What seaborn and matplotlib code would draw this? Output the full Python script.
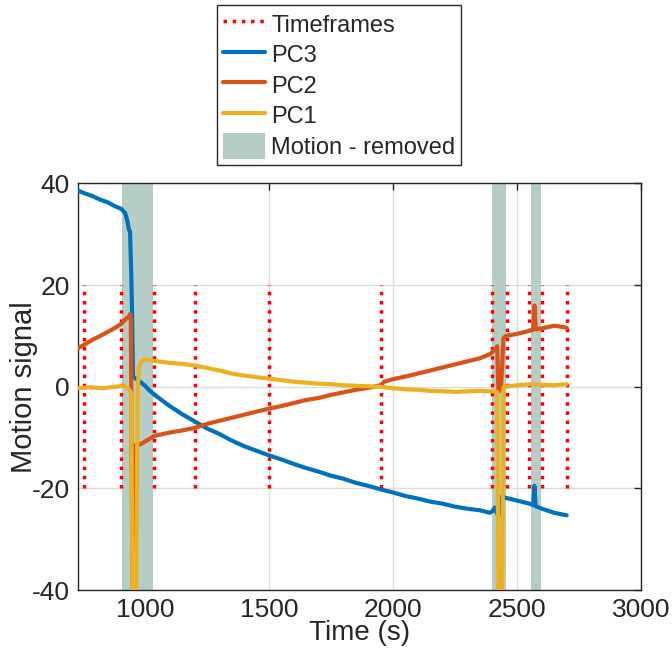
import numpy as np
import pandas as pd
import seaborn as sns
import matplotlib.pyplot as plt
from matplotlib.lines import Line2D
from matplotlib.patches import Patch

# PC3 (blue)
t_pc3 = [730, 760, 790, 820, 850, 880, 905, 920, 930, 935, 940, 945, 948, 952, 975,
         1000, 1020, 1050, 1100, 1150, 1200, 1250, 1300, 1350, 1400, 1450, 1500, 1550,
         1600, 1650, 1700, 1750, 1800, 1850, 1900, 1950, 2000, 2050, 2100, 2150, 2200,
         2250, 2300, 2350, 2390, 2400, 2410, 2425, 2440, 2450, 2500, 2550, 2565, 2570,
         2575, 2600, 2650, 2700]
v_pc3 = [38.6, 38.0, 37.5, 36.8, 36.3, 35.5, 35.0, 34.2, 32.5, 31.0, 30.5, 22.0, 15.0, 2.0, 1.2,
         0.2, -0.8, -2.0, -3.8, -5.4, -6.8, -8.2, -9.3, -10.6, -11.7, -12.6, -13.5, -14.3,
         -15.2, -16.0, -16.7, -17.5, -18.1, -18.9, -19.5, -20.2, -20.8, -21.5, -22.0, -22.6, -23.0,
         -23.6, -24.0, -24.3, -24.8, -24.5, -23.8, -25.5, -21.5, -21.8, -22.4, -23.0, -23.3, -19.5,
         -23.5, -24.0, -24.8, -25.3]

# PC2 (orange)
t_pc2 = [730, 760, 790, 820, 850, 880, 905, 920, 935, 940, 943, 950, 958, 962, 983,
         1037, 1100, 1150, 1200, 1250, 1300, 1350, 1400, 1450, 1500, 1550, 1600, 1650,
         1700, 1750, 1800, 1850, 1900, 1950, 1965, 2000, 2050, 2100, 2150, 2200, 2250,
         2300, 2350, 2390, 2400, 2415, 2420, 2425, 2435, 2445, 2455, 2500, 2550, 2565,
         2570, 2575, 2600, 2650, 2680, 2700]
v_pc2 = [7.6, 8.4, 9.3, 10.0, 10.8, 11.6, 12.4, 13.2, 13.8, 14.3, 13.5, -40.0, -40.0, -11.5, -11.3,
         -9.7, -9.0, -8.6, -8.1, -7.3, -6.7, -6.1, -5.5, -4.9, -4.3, -3.8, -3.2, -2.6,
         -2.2, -1.6, -1.1, -0.6, -0.2, 0.3, 1.0, 1.5, 2.0, 2.6, 3.2, 3.8, 4.4,
         5.0, 5.6, 6.4, 6.8, 7.6, 8.0, -1.0, -0.5, 9.5, 10.0, 10.4, 11.0, 11.2,
         16.0, 11.3, 11.5, 12.0, 11.8, 11.6]

# PC1 (yellow)
t_pc1 = [730, 780, 830, 880, 920, 935, 945, 950, 965, 970, 975, 985, 1000, 1050,
         1100, 1150, 1200, 1250, 1300, 1350, 1400, 1450, 1500, 1550, 1600, 1650, 1700,
         1750, 1800, 1850, 1900, 1950, 2000, 2050, 2100, 2150, 2200, 2250, 2300, 2350,
         2400, 2420, 2425, 2440, 2445, 2450, 2500, 2550, 2600, 2650, 2700]
v_pc1 = [-0.3, -0.1, -0.3, 0.0, 0.2, -0.5, -1.2, -40.0, -40.0, -2.0, 3.5, 5.0, 5.4, 5.0,
         4.7, 4.5, 4.2, 3.7, 3.2, 2.6, 2.2, 1.9, 1.6, 1.3, 1.0, 0.8, 0.6,
         0.5, 0.3, 0.2, 0.1, 0.0, -0.3, -0.5, -0.6, -0.8, -0.9, -1.0, -0.9, -0.8,
         -0.9, -1.0, -40.0, -40.0, -0.2, 0.0, 0.3, 0.5, 0.4, 0.3, 0.5]

timeframes = [755, 905, 1035, 1200, 1500, 1950, 2400, 2460, 2550, 2600, 2700]
removed_start = [906, 2400, 2558]
removed_end = [1033, 2455, 2596]

series_names = ['PC3', 'PC2', 'PC1']
colors = {'PC3': '#0072BD', 'PC2': '#D95319', 'PC1': '#EDB120'}

df = pd.concat([
    pd.DataFrame({'t': t_pc3, 'v': v_pc3, 'series': 'PC3'}),
    pd.DataFrame({'t': t_pc2, 'v': v_pc2, 'series': 'PC2'}),
    pd.DataFrame({'t': t_pc1, 'v': v_pc1, 'series': 'PC1'}),
], ignore_index=True)

sns.set_theme(style='whitegrid')
plt.rcParams['font.family'] = ['Liberation Sans', 'DejaVu Sans']
plt.rcParams['axes.unicode_minus'] = False

fig = plt.figure(figsize=(6.72, 6.6), dpi=100)
ax = fig.add_axes([0.116, 0.106, 0.838, 0.616])

shade = '#b4cec6'
for a, b in zip(removed_start, removed_end):
    ax.axvspan(a, b, color=shade, lw=0, zorder=1)

ax.vlines(timeframes, -20, 20, colors='red', linestyles=':', linewidth=2.5, zorder=2)

sns.lineplot(data=df, x='t', y='v', hue='series', hue_order=series_names,
             palette=colors, estimator=None, sort=False, linewidth=3,
             legend=False, ax=ax, zorder=3)

ax.set_xlim(730, 3000)
ax.set_ylim(-40, 40)
ax.set_xticks([1000, 1500, 2000, 2500, 3000])
ax.set_yticks([-40, -20, 0, 20, 40])
ax.grid(True, color='#dcdcdc', linewidth=1)
for s in ax.spines.values():
    s.set_edgecolor('#262626')
    s.set_linewidth(1)
ax.tick_params(direction='in', length=5, width=1, top=True, right=True,
               labelsize=19, colors='#262626', pad=6)
ax.set_xlabel('Time (s)', fontsize=20, labelpad=-2)
ax.set_ylabel('Motion signal', fontsize=21, labelpad=-5)

handles = [Line2D([], [], color='red', linestyle=':', linewidth=2.5),
           Line2D([], [], color=colors['PC3'], linewidth=3),
           Line2D([], [], color=colors['PC2'], linewidth=3),
           Line2D([], [], color=colors['PC1'], linewidth=3),
           Patch(facecolor=shade, edgecolor='none')]
labels = ['Timeframes', 'PC3', 'PC2', 'PC1', 'Motion - removed']
fig.legend(handles, labels, loc='upper center', bbox_to_anchor=(339 / 672, 1 - 5 / 660),
           fontsize=17, frameon=True, fancybox=False, framealpha=1, edgecolor='#262626',
           handlelength=1.8, handleheight=1.3, labelspacing=0.2, handletextpad=0.25,
           borderpad=0.25, borderaxespad=0)

fig.savefig('out.png', dpi=100)
